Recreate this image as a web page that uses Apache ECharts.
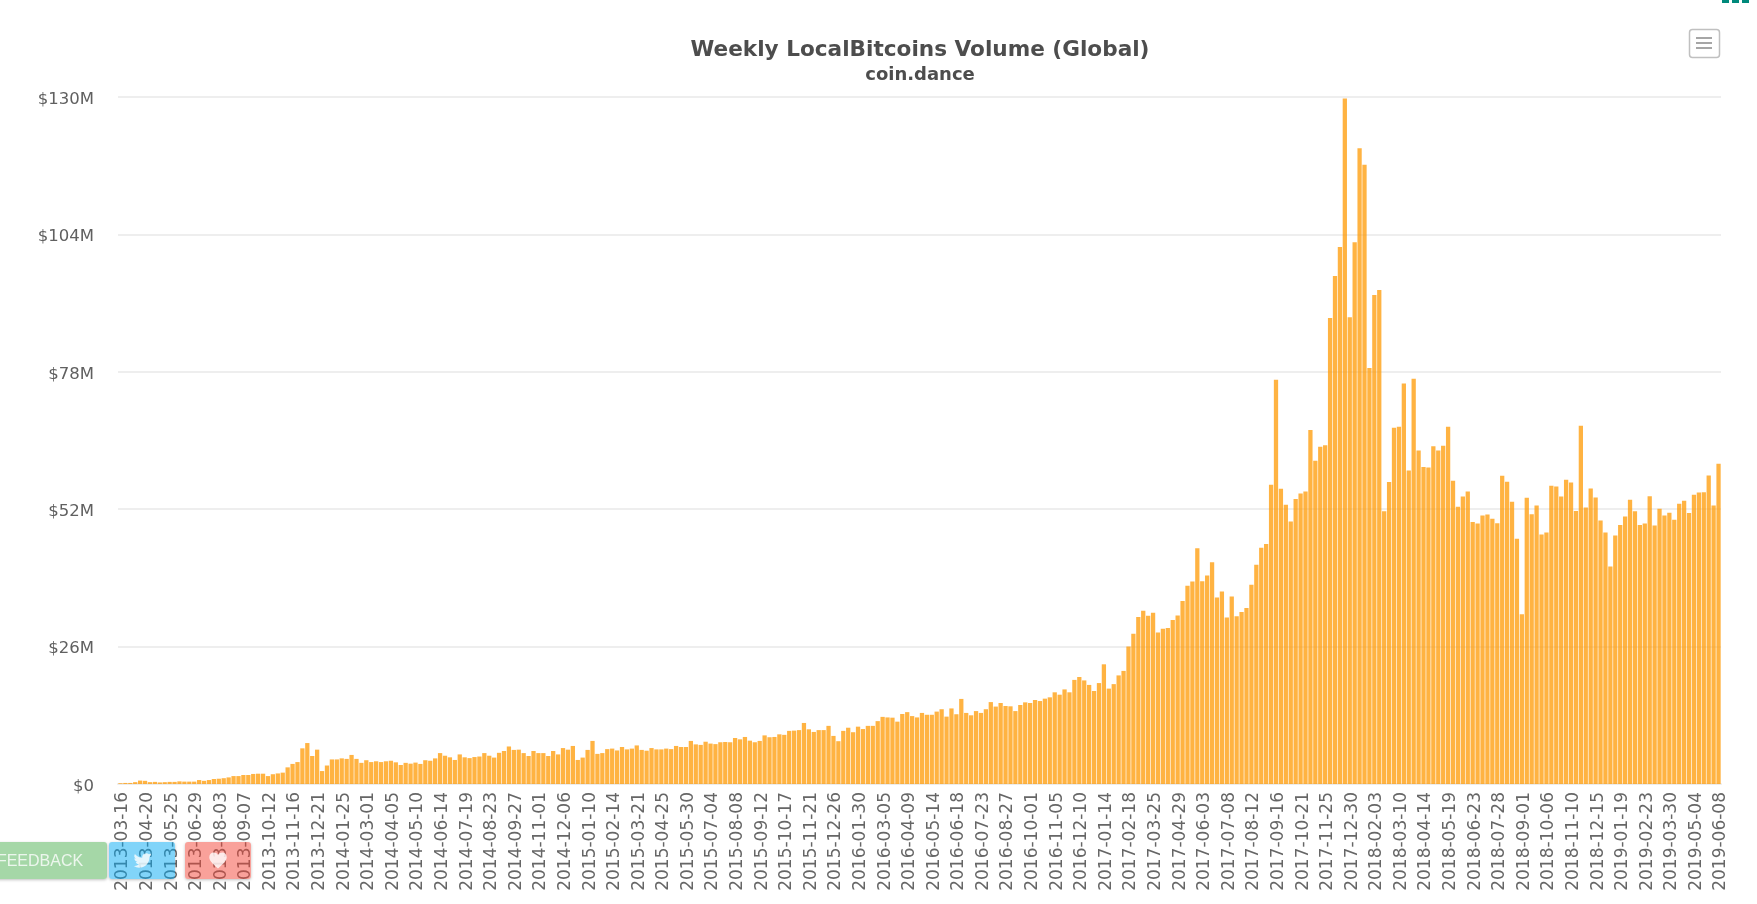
<!DOCTYPE html>
<html>
<head>
<meta charset="utf-8">
<title>Weekly LocalBitcoins Volume (Global)</title>
<script src="https://cdn.jsdelivr.net/npm/echarts@6/dist/echarts.min.js"></script>
<style>
html,body{margin:0;padding:0;background:#fff;overflow:hidden;}
#main{width:1757px;height:904px;}
.btn{position:absolute;top:842px;height:37px;border-radius:3px;box-shadow:0 1px 3px rgba(0,0,0,.25);
	display:flex;align-items:center;justify-content:center;color:rgba(255,255,255,.8);font:16px "Liberation Sans";}
.btn svg{fill:rgba(255,255,255,.8);}
</style>
</head>
<body>
<div id="main"></div>
<div class="btn" style="left:-27px;width:134px;background:rgba(76,175,80,.5);">FEEDBACK</div>
<div class="btn" style="left:109px;width:66px;background:rgba(3,169,244,.5);">
	<svg width="21" height="19" viewBox="0 0 24 24"><path d="M23 3a10.9 10.9 0 0 1-3.1 1.05A4.48 4.48 0 0 0 16.11 3c-2.5 0-4.5 2-4.5 4.5 0 .35.04.7.11 1.03A12.8 12.8 0 0 1 2.4 3.8a4.5 4.5 0 0 0 1.4 6 4.4 4.4 0 0 1-2-.56v.05a4.5 4.5 0 0 0 3.6 4.4 4.5 4.5 0 0 1-2 .08 4.5 4.5 0 0 0 4.2 3.12A9 9 0 0 1 1 18.8 12.7 12.7 0 0 0 7.9 21c8.3 0 12.9-6.900 12.9-12.900v-.6A9.200 9.200 0 0 0 23 3z"/></svg>
</div>
<div class="btn" style="left:185px;width:66px;background:rgba(244,67,54,.5);">
	<svg width="20" height="19" viewBox="0 0 24 24"><path d="M12 22C5 16 1 12.500 1 8 1 4.600 3.400 2 6.500 2 8.600 2 10.800 3 12 5c1.200-2 3.400-3 5.500-3C20.600 2 23 4.600 23 8c0 4.500-4 8-11 14z"/></svg>
</div>
<script>
var myChart = echarts.init(document.getElementById('main'));

var titleText = 'Weekly LocalBitcoins Volume (Global)';
var subText = 'coin.dance';
var firstWeek = '2013-03-16';
var yTicks = [0, 26, 52, 78, 104, 130];

// weekly volume, $ millions
var volume = [
	0.15,0.2,0.2,0.35,0.65,0.6,0.35,0.4,0.3,0.35,0.4,0.4,0.5,0.45,0.45,0.45,0.75,0.6,0.75,0.95,
	1.0,1.1,1.25,1.5,1.5,1.7,1.7,1.9,1.95,1.95,1.5,1.85,2.0,2.15,3.15,3.8,4.15,6.75,7.75,5.3,
	6.5,2.45,3.5,4.65,4.65,4.85,4.75,5.5,4.75,4.0,4.5,4.15,4.3,4.15,4.3,4.4,4.1,3.6,4.0,3.85,
	4.05,3.8,4.5,4.4,4.85,5.85,5.35,5.05,4.55,5.6,5.05,4.9,5.1,5.2,5.85,5.35,5.0,5.9,6.25,7.1,
	6.45,6.5,5.85,5.3,6.25,5.85,5.85,5.3,6.25,5.6,6.8,6.5,7.2,4.55,5.0,6.45,8.15,5.7,5.85,6.6,
	6.7,6.35,7.0,6.55,6.7,7.3,6.45,6.3,6.8,6.55,6.55,6.7,6.6,7.2,7.0,7.0,8.15,7.5,7.4,8.0,
	7.65,7.55,7.9,7.95,7.9,8.7,8.45,8.9,8.2,7.9,8.15,9.2,8.85,8.9,9.4,9.3,10.05,10.1,10.2,11.55,
	10.35,9.85,10.2,10.2,11.0,9.1,8.1,10.05,10.65,9.8,10.85,10.4,11.0,11.0,11.9,12.7,12.6,12.55,11.8,13.25,
	13.6,12.85,12.6,13.45,13.1,13.1,13.7,14.15,12.75,14.3,13.2,16.1,13.45,13.0,13.8,13.45,14.15,15.5,14.65,15.33,
	14.76,14.7,13.8,14.95,15.45,15.33,15.9,15.7,16.15,16.4,17.35,16.9,17.9,17.35,19.7,20.25,19.6,18.75,17.6,19.1,
	22.65,18.05,18.9,20.55,21.4,26.0,28.45,31.6,32.8,31.85,32.4,28.65,29.4,29.5,31.05,31.9,34.65,37.5,38.3,44.6,
	38.35,39.45,41.95,35.3,36.45,31.5,35.5,31.75,32.55,33.3,37.7,41.5,44.7,45.4,56.65,76.5,55.85,52.85,49.65,53.95,
	54.95,55.35,67.0,61.15,63.8,64.1,88.2,96.15,101.6,129.7,88.3,102.5,120.3,117.2,78.7,92.55,93.5,51.6,57.15,67.4,
	67.6,75.8,59.3,76.7,63.1,60.0,59.9,63.9,63.1,64.0,67.6,57.4,52.45,54.4,55.35,49.6,49.3,50.8,51.0,50.2,
	49.35,58.35,57.2,53.4,46.4,32.1,54.15,51.05,52.7,47.2,47.6,56.45,56.3,54.4,57.55,57.05,51.65,67.8,52.3,55.9,
	54.2,49.85,47.6,41.15,47.0,49.0,50.6,53.8,51.6,49.0,49.3,54.45,48.9,52.1,50.8,51.35,50.0,53.05,53.6,51.3,
	54.75,55.15,55.2,58.4,52.7,60.6
];

// one category per week, same length as volume
function weekLabels(start, count){
	var res = [];
	var t = Date.parse(start + 'T00:00:00Z');
	for (var i = 0; i < count; i++) {
		res.push(new Date(t + i * 604800000).toISOString().slice(0, 10));
	}
	return res;
}
var weeks = weekLabels(firstWeek, volume.length);

var option = {
	animation: false,
	textStyle: {fontFamily: '"DejaVu Sans"'},
	title: {
		text: titleText,
		subtext: subText,
		left: 915,
		top: 34,
		textAlign: 'center',
		itemGap: 5,
		textStyle: {fontSize: 21.6, fontWeight: 'bold', color: '#4d4d4d', fontFamily: '"DejaVu Sans"'},
		subtextStyle: {fontSize: 18, fontWeight: 'bold', color: '#4d4d4d', fontFamily: '"DejaVu Sans"'}
	},
	grid: {left: 118, right: 36, top: 97, bottom: 120},
	xAxis: {
		type: 'category',
		data: weeks,
		axisTick: {show: false},
		axisLine: {lineStyle: {color: '#ececec', width: 2}},
		axisLabel: {
			interval: 4,
			rotate: 90,
			margin: 8,
			color: '#666',
			fontSize: 17,
			verticalAlign: 'top',
			padding: [-6, 0, 0, 0],
			fontFamily: '"DejaVu Sans"'
		}
	},
	yAxis: {
		type: 'value',
		min: 0,
		max: yTicks[yTicks.length - 1],
		interval: 26,
		axisLine: {show: false},
		axisTick: {show: false},
		splitLine: {lineStyle: {color: '#e8e8e8', width: 1.5}},
		axisLabel: {
			margin: 24,
			color: '#606060',
			fontSize: 16.5,
			verticalAlign: 'top',
			padding: [-6, 0, 0, 0],
			fontFamily: '"DejaVu Sans"',
			formatter: function (v) { return '$' + v + (v ? 'M' : ''); }
		}
	},
	series: [{
		name: 'Volume',
		type: 'bar',
		data: volume,
		barCategoryGap: '13%',
		itemStyle: {color: 'rgba(255,152,0,0.74)'}
	}],
	graphic: [
		// teal edge of the page header, top right
		{type: 'rect', shape: {x: 1722, y: 0, width: 7, height: 3}, style: {fill: '#00897b'}},
		{type: 'rect', shape: {x: 1732, y: 0, width: 7, height: 3}, style: {fill: '#00897b'}},
		{type: 'rect', shape: {x: 1742, y: 0, width: 7, height: 3}, style: {fill: '#00897b'}},
		// export menu button
		{type: 'rect', z: 100, shape: {x: 1689.5, y: 29.5, width: 30, height: 28, r: 3},
			style: {fill: '#fff', stroke: '#c0c0c0', lineWidth: 1.5}},
		{type: 'line', z: 101, shape: {x1: 1696, y1: 38, x2: 1712, y2: 38}, style: {stroke: '#888', lineWidth: 1.5}},
		{type: 'line', z: 101, shape: {x1: 1696, y1: 43, x2: 1712, y2: 43}, style: {stroke: '#888', lineWidth: 1.5}},
		{type: 'line', z: 101, shape: {x1: 1696, y1: 48, x2: 1712, y2: 48}, style: {stroke: '#888', lineWidth: 1.5}}
	]
};

myChart.setOption(option);
</script>
</body>
</html>
